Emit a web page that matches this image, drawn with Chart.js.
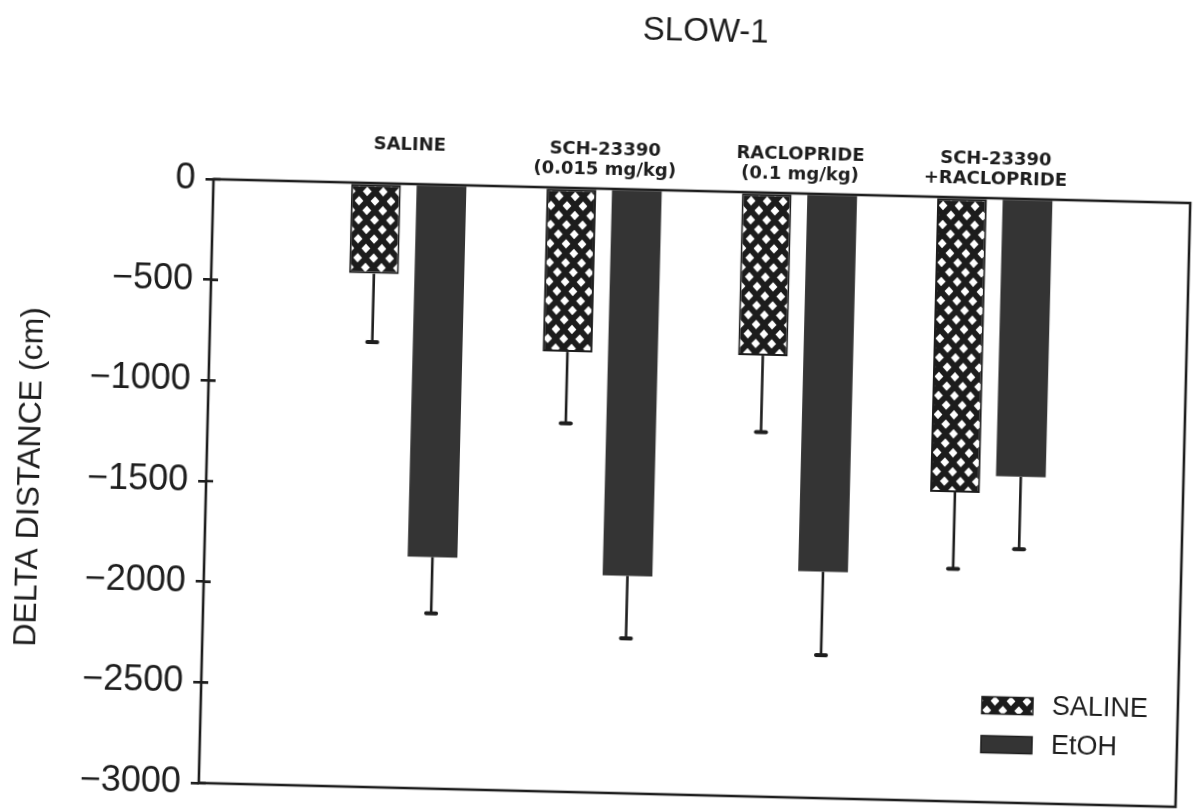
<!DOCTYPE html>
<html>
<head>
<meta charset="utf-8">
<title>SLOW-1</title>
<script src="https://cdn.jsdelivr.net/npm/chart.js@4/dist/chart.umd.min.js"></script>
<style>
  html, body { margin: 0; padding: 0; background: #fff; overflow: hidden; }
  #wrap { width: 1194px; height: 812px; position: relative; }
  /* the printed figure sits slightly turned on the page */
  #chart { display: block; transform: rotate(1.4deg); transform-origin: 694px 493px; }
</style>
</head>
<body>
<div id="wrap"><canvas id="chart" width="1194" height="812"></canvas></div>
<script>
// Treatment groups (blank slots at both ends keep the groups off the frame)
const categories = [
  '',
  ['SALINE', ''],
  ['SCH-23390', '(0.015 mg/kg)'],
  ['RACLOPRIDE', '(0.1 mg/kg)'],
  ['SCH-23390', '+RACLOPRIDE'],
  ''
];

// Mean change in distance travelled (cm) and its standard error
const salineMean = [null, -450, -815, -810, -1465, null];
const salineSem  = [null, 340, 355, 380, 380, null];
const etohMean   = [null, -1850, -1920, -1875, -1380, null];
const etohSem    = [null, 280, 310, 415, 360, null];

const seriesNames = ['SALINE', 'EtOH'];

// Y axis ticks
const yTickValues = [0, -500, -1000, -1500, -2000, -2500, -3000];
const yTickLabels = ['0', '\u2212500', '\u22121000', '\u22121500', '\u22122000', '\u22122500', '\u22123000'];

const INK = '#1e1e1e';
const canvas = document.getElementById('chart');
const ctx = canvas.getContext('2d');

// Lattice fill: white diamonds on black
function latticePattern() {
  const w = 16, h = 19;
  const c = document.createElement('canvas');
  c.width = w; c.height = h;
  const g = c.getContext('2d');
  g.fillStyle = '#1c1c1c';
  g.fillRect(0, 0, w, h);
  g.fillStyle = '#ffffff';
  const dia = (x, y) => {
    g.beginPath();
    g.moveTo(x, y - 4.8);
    g.lineTo(x + 4.4, y);
    g.lineTo(x, y + 4.8);
    g.lineTo(x - 4.4, y);
    g.closePath();
    g.fill();
  };
  dia(0, 0); dia(w, 0); dia(0, h); dia(w, h); dia(w / 2, h / 2);
  return ctx.createPattern(c, 'repeat');
}
const lattice = latticePattern();
const etohFill = '#343434';

const semBySeries = [salineSem, etohSem];

// Downward error bars with a short cap
const errorBars = {
  id: 'errorBars',
  afterDatasetsDraw(chart) {
    const c = chart.ctx, y = chart.scales.y;
    chart.data.datasets.forEach((ds, di) => {
      const meta = chart.getDatasetMeta(di);
      const sem = semBySeries[di];
      meta.data.forEach((bar, i) => {
        const v = ds.data[i], e = sem[i];
        if (v == null || e == null) return;
        const y0 = y.getPixelForValue(v);
        const y1 = y.getPixelForValue(v - e);
        c.save();
        c.strokeStyle = INK;
        c.lineWidth = 2.6;
        c.beginPath(); c.moveTo(bar.x, y0); c.lineTo(bar.x, y1); c.stroke();
        c.lineWidth = 4;
        c.lineCap = 'round';
        c.beginPath(); c.moveTo(bar.x - 5, y1); c.lineTo(bar.x + 5, y1); c.stroke();
        c.restore();
      });
    });
  }
};

// Box around the plot and the inner half of each y tick
const frame = {
  id: 'frame',
  afterDatasetsDraw(chart) {
    const c = chart.ctx, a = chart.chartArea, y = chart.scales.y;
    c.save();
    c.strokeStyle = INK;
    c.lineWidth = 2.6;
    c.strokeRect(a.left, a.top, a.right - a.left, a.bottom - a.top);
    c.beginPath();
    yTickValues.forEach(v => {
      const py = y.getPixelForValue(v);
      c.moveTo(a.left, py);
      c.lineTo(a.left + 7, py);
    });
    c.stroke();
    c.restore();
  }
};

// Key in the lower right corner of the plot
const keyBox = {
  id: 'keyBox',
  afterDraw(chart) {
    const c = chart.ctx, a = chart.chartArea;
    const x0 = a.right - 196, sw = 51, sh = 17;
    const rows = [a.bottom - 97, a.bottom - 58];
    c.save();
    c.font = '27px "Liberation Sans", Arial, sans-serif';
    c.textBaseline = 'middle';
    chart.data.datasets.forEach((ds, i) => {
      const cy = rows[i];
      c.fillStyle = ds.backgroundColor;
      c.fillRect(x0, cy - sh / 2, sw, sh);
      c.lineWidth = 1.5;
      c.strokeStyle = INK;
      c.strokeRect(x0, cy - sh / 2, sw, sh);
      c.fillStyle = INK;
      c.fillText(ds.label, x0 + 70, cy + 1);
    });
    c.restore();
  }
};

new Chart(ctx, {
  type: 'bar',
  data: {
    labels: categories,
    datasets: [
      {
        label: seriesNames[0],
        data: salineMean,
        backgroundColor: lattice,
        borderColor: INK,
        borderWidth: 2,
        borderSkipped: false,
        categoryPercentage: 0.67,
        barPercentage: 0.76
      },
      {
        label: seriesNames[1],
        data: etohMean,
        backgroundColor: etohFill,
        borderColor: etohFill,
        borderWidth: 0,
        categoryPercentage: 0.67,
        barPercentage: 0.76
      }
    ]
  },
  options: {
    responsive: false,
    devicePixelRatio: 1,
    animation: false,
    layout: { padding: { top: 0, right: 11, bottom: 17, left: 0 } },
    plugins: {
      legend: { display: false },
      tooltip: { enabled: false },
      title: {
        display: true,
        text: 'SLOW-1',
        fullSize: false,
        color: INK,
        font: { family: '"Liberation Sans", Arial, sans-serif', size: 33, weight: 'normal', lineHeight: 1.2 },
        padding: { top: 12, bottom: 10 }
      }
    },
    scales: {
      x: {
        position: 'top',
        offset: false,
        grid: { display: false, drawTicks: false },
        border: { display: false },
        ticks: {
          autoSkip: false,
          maxRotation: 0,
          minRotation: 0,
          padding: 9,
          color: INK,
          font: { family: '"DejaVu Sans", sans-serif', size: 18, weight: 'bold', lineHeight: 1.1 }
        },
        afterFit(scale) {
          scale.height = 129.4;
          scale.paddingLeft = 0;
          scale.paddingRight = 0;
        }
      },
      y: {
        min: -3000,
        max: 0,
        afterBuildTicks(scale) { scale.ticks = yTickValues.map(v => ({ value: v })); },
        grid: { display: true, drawOnChartArea: false, drawTicks: true, tickLength: 8, color: INK, lineWidth: 2.6 },
        border: { display: false },
        ticks: {
          padding: 10,
          color: INK,
          font: { family: '"Liberation Sans", Arial, sans-serif', size: 36 },
          callback(value) {
            const i = yTickValues.indexOf(value);
            return i >= 0 ? yTickLabels[i] : '';
          }
        },
        title: {
          display: true,
          text: 'DELTA DISTANCE (cm)',
          color: INK,
          font: { family: '"Liberation Sans", Arial, sans-serif', size: 32, lineHeight: 1.2 },
          padding: { top: 11, bottom: 0 }
        },
        afterFit(scale) {
          scale.width = 206;
          scale.paddingTop = 0;
          scale.paddingBottom = 0;
        }
      }
    }
  },
  plugins: [errorBars, frame, keyBox]
});
</script>
</body>
</html>
